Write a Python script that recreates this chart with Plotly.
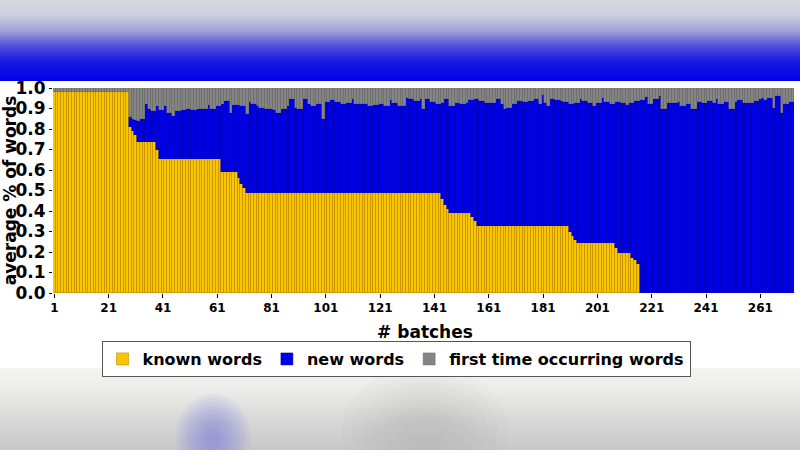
import plotly.graph_objects as go
import numpy as np

# ---------------- data ----------------
batches = list(range(1, 274))

known_words = [
    0.98, 0.98, 0.98, 0.98, 0.98, 0.98, 0.98, 0.98, 0.98, 0.98,
    0.98, 0.98, 0.98, 0.98, 0.98, 0.98, 0.98, 0.98, 0.98, 0.98,
    0.98, 0.98, 0.98, 0.98, 0.98, 0.98, 0.98, 0.98,            # 1-28
    0.81, 0.79, 0.77,                                          # 29-31
    0.735, 0.735, 0.735, 0.735, 0.735, 0.735, 0.735,           # 32-38
    0.70,                                                      # 39
    0.652, 0.652, 0.652, 0.652, 0.652, 0.652, 0.652, 0.652, 0.652, 0.652,
    0.652, 0.652, 0.652, 0.652, 0.652, 0.652, 0.652, 0.652, 0.652, 0.652,
    0.652, 0.652, 0.652,                                       # 40-62
    0.59, 0.59, 0.59, 0.59, 0.59, 0.59,                        # 63-68
    0.56, 0.53, 0.51,                                          # 69-71
    0.49, 0.49, 0.49, 0.49, 0.49, 0.49, 0.49, 0.49, 0.49, 0.49,
    0.49, 0.49, 0.49, 0.49, 0.49, 0.49, 0.49, 0.49, 0.49, 0.49,
    0.49, 0.49, 0.49, 0.49, 0.49, 0.49, 0.49, 0.49, 0.49, 0.49,
    0.49, 0.49, 0.49, 0.49, 0.49, 0.49, 0.49, 0.49, 0.49, 0.49,
    0.49, 0.49, 0.49, 0.49, 0.49, 0.49, 0.49, 0.49, 0.49, 0.49,
    0.49, 0.49, 0.49, 0.49, 0.49, 0.49, 0.49, 0.49, 0.49, 0.49,
    0.49, 0.49, 0.49, 0.49, 0.49, 0.49, 0.49, 0.49, 0.49, 0.49,
    0.49, 0.49,                                                # 72-143
    0.46, 0.43, 0.41,                                          # 144-146
    0.392, 0.392, 0.392, 0.392, 0.392, 0.392, 0.392, 0.392,    # 147-154
    0.37, 0.35,                                                # 155-156
    0.325, 0.325, 0.325, 0.325, 0.325, 0.325, 0.325, 0.325, 0.325, 0.325,
    0.325, 0.325, 0.325, 0.325, 0.325, 0.325, 0.325, 0.325, 0.325, 0.325,
    0.325, 0.325, 0.325, 0.325, 0.325, 0.325, 0.325, 0.325, 0.325, 0.325,
    0.325, 0.325, 0.325, 0.325,                                # 157-190
    0.30, 0.28, 0.26,                                          # 191-193
    0.245, 0.245, 0.245, 0.245, 0.245, 0.245, 0.245, 0.245, 0.245, 0.245,
    0.245, 0.245, 0.245, 0.245,                                # 194-207
    0.22,                                                      # 208
    0.195, 0.195, 0.195, 0.195, 0.195,                         # 209-213
    0.17, 0.16, 0.14,                                          # 214-216
    0.0, 0.0, 0.0, 0.0, 0.0, 0.0, 0.0, 0.0, 0.0, 0.0,
    0.0, 0.0, 0.0, 0.0, 0.0, 0.0, 0.0, 0.0, 0.0, 0.0,
    0.0, 0.0, 0.0, 0.0, 0.0, 0.0, 0.0, 0.0, 0.0, 0.0,
    0.0, 0.0, 0.0, 0.0, 0.0, 0.0, 0.0, 0.0, 0.0, 0.0,
    0.0, 0.0, 0.0, 0.0, 0.0, 0.0, 0.0, 0.0, 0.0, 0.0,
    0.0, 0.0, 0.0, 0.0, 0.0, 0.0, 0.0,                         # 217-273
]

# upper edge of the blue part (known + new), read per batch
known_plus_new = [
    0.98, 0.98, 0.98, 0.98, 0.98, 0.98, 0.98, 0.98, 0.98, 0.98,
    0.98, 0.98, 0.98, 0.98, 0.98, 0.98, 0.98, 0.98, 0.98, 0.98,
    0.98, 0.98, 0.98, 0.98, 0.98, 0.98, 0.98, 0.98,
    0.86, 0.85, 0.845, 0.84, 0.85, 0.85, 0.92, 0.90, 0.89, 0.89,
    0.91, 0.895, 0.895, 0.91, 0.88, 0.88, 0.865, 0.89, 0.89, 0.895,
    0.895, 0.90,
    0.90, 0.895, 0.895, 0.896, 0.896, 0.896, 0.896, 0.915, 0.896, 0.896,
    0.91, 0.91, 0.92, 0.936, 0.936, 0.88, 0.915, 0.915, 0.915, 0.912,
    0.912, 0.872, 0.93, 0.92, 0.92, 0.91, 0.904, 0.904, 0.896, 0.896,
    0.896, 0.893, 0.88, 0.88, 0.896, 0.896, 0.912, 0.944, 0.944, 0.904,
    0.896, 0.896, 0.948, 0.948, 0.92, 0.912, 0.912, 0.92, 0.92, 0.847,
    0.93, 0.93, 0.94, 0.94, 0.93, 0.93, 0.92, 0.92, 0.928, 0.928,
    0.948, 0.92, 0.92, 0.92, 0.92, 0.92, 0.912, 0.912, 0.915, 0.915,
    0.92, 0.92, 0.91, 0.91, 0.94, 0.928, 0.928, 0.91, 0.912, 0.912,
    0.952, 0.944, 0.944, 0.936, 0.936, 0.948, 0.896, 0.944, 0.944, 0.93,
    0.93, 0.92, 0.92, 0.928, 0.944, 0.944, 0.912, 0.912, 0.928, 0.928,
    0.92, 0.92, 0.928, 0.94, 0.94, 0.944, 0.944, 0.936, 0.936, 0.928,
    0.928, 0.925, 0.925, 0.948, 0.948, 0.92, 0.896, 0.904, 0.904, 0.92,
    0.92, 0.936, 0.936, 0.93, 0.93, 0.936, 0.936, 0.944, 0.944, 0.92,
    0.968, 0.925, 0.912, 0.944, 0.944, 0.94, 0.94, 0.936, 0.93, 0.93,
    0.92, 0.92, 0.928, 0.928, 0.948, 0.936, 0.936, 0.928, 0.928, 0.912,
    0.928, 0.928, 0.952, 0.93, 0.93, 0.92, 0.92, 0.93, 0.93, 0.928,
    0.928, 0.915, 0.925, 0.925, 0.936, 0.936, 0.94, 0.94, 0.955, 0.92,
    0.92, 0.944, 0.944, 0.96, 0.896, 0.896, 0.925, 0.925, 0.928, 0.928,
    0.93, 0.912, 0.912, 0.92, 0.92, 0.896, 0.896, 0.93, 0.93, 0.925,
    0.925, 0.936, 0.936, 0.925, 0.944, 0.92, 0.92, 0.93, 0.93, 0.896,
    0.896, 0.93, 0.94, 0.94, 0.928, 0.928, 0.925, 0.925, 0.936, 0.936,
    0.944, 0.952, 0.94, 0.952, 0.952, 0.904, 0.96, 0.96, 0.88, 0.92,
    0.92, 0.93, 0.93,
]

y_ticks = [0.0, 0.1, 0.2, 0.3, 0.4, 0.5, 0.6, 0.7, 0.8, 0.9, 1.0]
x_ticks = [1, 21, 41, 61, 81, 101, 121, 141, 161, 181, 201, 221, 241, 261]

n = min(len(batches), len(known_words), len(known_plus_new))
batches = batches[:n]
known_arr = np.array(known_words[:n])
top_arr = np.array(known_plus_new[:n])
new_words = np.round(top_arr - known_arr, 3)
first_time_words = np.round(1.0 - top_arr, 3)

FONT = "DejaVu Sans"

fig = go.Figure()
fig.add_trace(go.Bar(x=batches, y=known_arr, name="known words",
                     marker=dict(color="#f7c600", line=dict(color="#c48e00", width=0.6))))
fig.add_trace(go.Bar(x=batches, y=new_words, name="new words",
                     marker=dict(color="#0000e6", line=dict(color="#0000b8", width=0.5))))
fig.add_trace(go.Bar(x=batches, y=first_time_words, name="first time occurring words",
                     marker=dict(color="#858585", line=dict(color="#6a6a6a", width=0.5))))

# ---------- blurred video-frame background (decoration) ----------
W, H = 800, 450
PL, PR, PT, PB = 53, 3, 88, 157
ph = H - PT - PB
pw = W - PL - PR


def py(p):
    return (H - PB - p) / ph


def px(p):
    return (p - PL) / pw


def lerp_color(stops, t):
    for i in range(len(stops) - 1):
        t0, c0 = stops[i]
        t1, c1 = stops[i + 1]
        if t0 <= t <= t1:
            f = (t - t0) / (t1 - t0) if t1 > t0 else 0
            c = [int(round(c0[k] + (c1[k] - c0[k]) * f)) for k in range(3)]
            return "rgb(%d,%d,%d)" % tuple(c)
    c = stops[-1][1]
    return "rgb(%d,%d,%d)" % tuple(c)


shapes = []
top_stops = [(0, (216, 216, 224)), (15, (206, 206, 222)), (30, (165, 165, 216)),
             (45, (85, 85, 215)), (60, (28, 28, 222)), (81, (0, 0, 232))]
for p in range(0, 81, 2):
    shapes.append(dict(type="rect", xref="paper", yref="paper", layer="above",
                       x0=px(-10), x1=px(W + 10), y0=py(min(p + 2, 81)),
                       y1=py(p - (4 if p == 0 else 0)),
                       fillcolor=lerp_color(top_stops, p + 1), line=dict(width=0)))
bot_stops = [(368, (244, 244, 240)), (390, (236, 236, 234)), (420, (216, 216, 216)),
             (450, (200, 200, 200))]
for p in range(368, 450, 2):
    shapes.append(dict(type="rect", xref="paper", yref="paper", layer="above",
                       x0=px(-10), x1=px(W + 10),
                       y0=py(min(p + 2, 450) + (4 if p >= 448 else 0)), y1=py(p),
                       fillcolor=lerp_color(bot_stops, p + 1), line=dict(width=0)))
# soft blobs (many faint layers for a blurred look)
for r in [44, 40, 36, 32, 28, 24, 20, 16, 12, 8]:
    shapes.append(dict(type="circle", xref="paper", yref="paper", layer="above",
                       x0=px(213 - r * 0.85), x1=px(213 + r * 0.85),
                       y0=py(438 + r), y1=py(438 - r),
                       fillcolor="rgba(120,120,230,0.07)", line=dict(width=0)))
for r in [64, 56, 48, 40, 32, 24, 16]:
    shapes.append(dict(type="circle", xref="paper", yref="paper", layer="above",
                       x0=px(425 - r * 1.3), x1=px(425 + r * 1.3),
                       y0=py(430 + r), y1=py(430 - r),
                       fillcolor="rgba(140,140,140,0.035)", line=dict(width=0)))
# keep the white band clean
shapes.append(dict(type="rect", xref="paper", yref="paper", layer="above",
                   x0=px(-10), x1=px(W + 10), y0=py(368), y1=py(340),
                   fillcolor="white", line=dict(width=0)))

fig.update_layout(
    width=W, height=H,
    margin=dict(l=PL, r=PR, t=PT, b=PB, autoexpand=False),
    paper_bgcolor="white", plot_bgcolor="white",
    barmode="stack", bargap=0,
    font=dict(family=FONT, size=17, color="black", weight="bold"),
    showlegend=True,
    legend=dict(orientation="h", x=px(396), xanchor="center", y=py(341), yanchor="top",
                traceorder="normal",
                bordercolor="#555555", borderwidth=1, bgcolor="white",
                font=dict(family=FONT, size=16, color="black", weight="bold"),
                itemwidth=30, tracegroupgap=0),
    shapes=shapes,
    xaxis=dict(range=[0.5, 274.5], tickmode="array", tickvals=x_ticks,
               ticktext=[str(v) for v in x_ticks], automargin=False,
               tickfont=dict(family=FONT, size=12, weight="bold"),
               ticks="outside", ticklen=4, tickcolor="black",
               showgrid=False, zeroline=False, showline=False,
               title=dict(text="# batches", standoff=11,
                          font=dict(family=FONT, size=17, weight="bold"))),
    yaxis=dict(range=[0, 1.0], tickmode="array", tickvals=y_ticks,
               ticktext=["%.1f" % v for v in y_ticks], automargin=False,
               tickfont=dict(family=FONT, size=17, weight="bold"),
               ticks="outside", ticklen=3, tickcolor="black",
               showgrid=False, zeroline=False, showline=False,
               title=dict(text="average % of words", standoff=3,
                          font=dict(family=FONT, size=17, weight="bold"))),
)

fig.write_html("out.html",
               config={"displayModeBar": False},
               post_script="document.documentElement.style.margin='0';"
                           "document.documentElement.style.padding='0';"
                           "document.body.style.margin='0';"
                           "document.body.style.padding='0';"
                           "document.body.style.overflow='hidden';")
